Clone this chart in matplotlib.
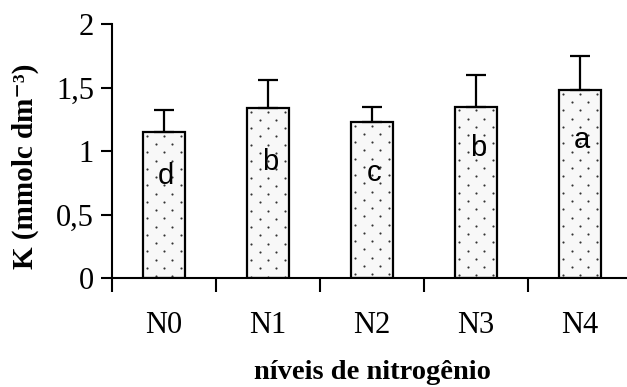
import matplotlib.pyplot as plt
import numpy as np

# K content per nitrogen level
niveis = ['N0', 'N1', 'N2', 'N3', 'N4']
k_media = [1.15, 1.34, 1.23, 1.35, 1.48]
k_desvio = [0.17, 0.22, 0.12, 0.25, 0.27]
letras = ['d', 'b', 'c', 'b', 'a']

# height where each letter sits inside its bar
letra_y = [0.80, 0.91, 0.83, 1.02, 1.09]

largura = 0.41

fig = plt.figure(figsize=(6.27, 3.87), dpi=100)
ax = fig.add_axes([112 / 627, 109 / 387, 520 / 627, 254 / 387])

x = np.arange(len(niveis))
ax.bar(x, k_media, width=largura, color='#f8f8f8', edgecolor='black',
       linewidth=1.6, zorder=2)

# dotted fill: staggered rows of small dots inside every bar
dx, dy = 0.08, 0.065
for xi, h in zip(x, k_media):
    pts_x, pts_y = [], []
    for k, yy in enumerate(np.arange(h - 0.03, 0.0, -dy)):
        offs = [-2 * dx, 0, 2 * dx] if k % 2 == 0 else [-dx, dx]
        for o in offs:
            pts_x.append(xi + o)
            pts_y.append(yy)
    ax.scatter(pts_x, pts_y, s=2.4, color='#333333', linewidths=0, zorder=2.5)

ax.errorbar(x, k_media, yerr=[np.zeros(len(x)), k_desvio], fmt='none',
            ecolor='black', elinewidth=1.6, capsize=7.5, capthick=1.6, zorder=3)

for xi, yi, s in zip(x, letra_y, letras):
    ax.text(xi + 0.02, yi, s, ha='center', va='center', fontsize=21,
            family='Liberation Sans', zorder=4)

ax.set_xlim(-0.5, 4.5)
ax.set_ylim(0, 2)
ax.set_yticks([0, 0.5, 1, 1.5, 2])
ax.set_yticklabels(['0', '0,5', '1', '1,5', '2'], family='Liberation Serif', fontsize=22)

# ticks on category boundaries, labels at centres
ax.set_xticks(np.arange(-0.5, 4.5, 1))
ax.set_xticklabels([])
ax.set_xticks(x, minor=True)
ax.set_xticklabels(niveis, minor=True, family='Liberation Serif', fontsize=22)
ax.tick_params(axis='x', which='major', direction='out', length=10, width=1.5)
ax.tick_params(axis='x', which='minor', length=0, pad=24)
ax.tick_params(axis='y', direction='out', length=8, width=1.5, pad=5)

for side in ['top', 'right']:
    ax.spines[side].set_visible(False)
for side in ['left', 'bottom']:
    ax.spines[side].set_linewidth(1.5)

ax.set_xlabel('níveis de nitrogênio', family='Liberation Serif', fontweight='bold',
              fontsize=20.5, labelpad=14)
ax.set_ylabel('K (mmolc dm⁻³)', family=['Liberation Serif', 'DejaVu Serif'],
              fontweight='bold', fontsize=21)
ax.yaxis.set_label_coords(-0.14, 0.44)

fig.savefig('out.png', dpi=100)
